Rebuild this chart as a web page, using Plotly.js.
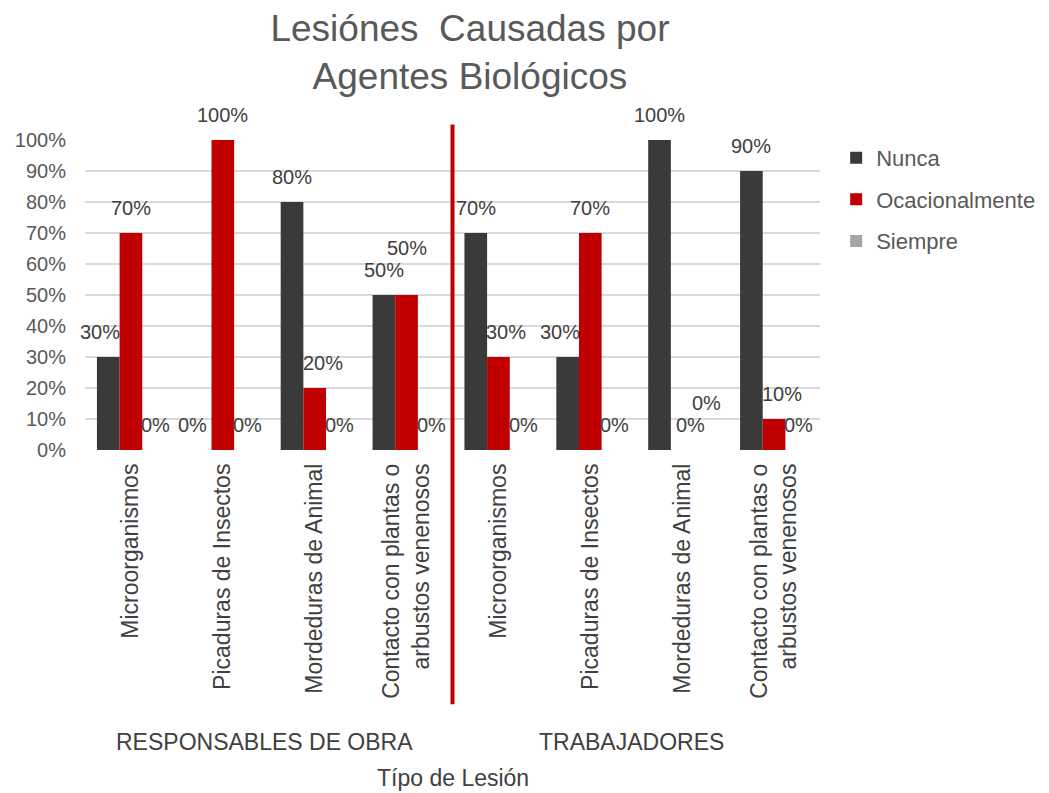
<!DOCTYPE html>
<html>
<head>
<meta charset="utf-8">
<script src="https://cdn.plot.ly/plotly-3.0.1.min.js"></script>
<style>
  body { margin: 0; background: #fff; }
  #chart { width: 1049px; height: 793px; }
</style>
</head>
<body>
<div id="chart"></div>
<script>
const categories = [
    'Microorganismos', 'Picaduras de Insectos', 'Mordeduras de Animal', 'Contacto con plantas o<br>arbustos venenosos',
    'Microorganismos', 'Picaduras de Insectos', 'Mordeduras de Animal', 'Contacto con plantas o<br>arbustos venenosos'
];
const groups = ['RESPONSABLES DE OBRA', 'TRABAJADORES'];
const seriesNames = ['Nunca', 'Ocacionalmente', 'Siempre'];
const nunca = [30, 0, 80, 50, 70, 30, 100, 90];
const ocacionalmente = [70, 100, 20, 50, 30, 70, 0, 10];
const siempre = [0, 0, 0, 0, 0, 0, 0, 0];
const colors = ['#3a3a3a', '#c00000', '#a6a6a6'];

const allValues = [nunca, ocacionalmente, siempre];
const xs = categories.map((_, i) => i);
const bargap = 0.26;
const barW = (1 - bargap) / allValues.length;
const fontFamily = 'Liberation Sans, Arial, sans-serif';

const traces = allValues.map((vals, s) => ({
    type: 'bar', name: seriesNames[s], x: xs, y: vals, legendgroup: seriesNames[s],
    marker: { color: colors[s] }, hoverinfo: 'skip'
}));

// data labels as annotations: stagger equal neighbours, nudge away from a taller neighbour bar
const labelAnnotations = [];
allValues.forEach((vals, s) => {
    vals.forEach((v, i) => {
        const prev = s > 0 ? allValues[s - 1][i] : null;
        const next = s < allValues.length - 1 ? allValues[s + 1][i] : null;
        const clash = prev === v;
        let dx = 0;
        if (next !== null && next > v) dx = -8;
        else if (prev !== null && prev > v) dx = 8;
        labelAnnotations.push({
            text: v + '%', xref: 'x', yref: 'y',
            x: i + (s - (allValues.length - 1) / 2) * barW, y: v,
            yanchor: 'bottom', yshift: 12 + (clash ? 22 : 0), xshift: s === 2 ? 2 : dx,
            showarrow: false, font: { family: fontFamily, size: 20, color: '#404040' }
        });
    });
});

const half = categories.length / 2;
const groupAnnotations = groups.map((g, i) => ({
    text: g, xref: 'x', yref: 'paper', x: i * half + (half - 1) / 2 - 0.05, y: -0.942,
    yanchor: 'middle', showarrow: false, font: { family: fontFamily, size: 23, color: '#404040' }
}));

const layout = {
    width: 1049, height: 793,
    margin: { l: 85, r: 229, t: 140, b: 343, autoexpand: false },
    paper_bgcolor: '#fff', plot_bgcolor: '#fff',
    font: { family: fontFamily, color: '#595959' },
    title: {
        text: 'Lesiónes  Causadas por<br>Agentes Biológicos',
        font: { size: 37, color: '#595959' },
        x: 0.448, xref: 'container', y: 0.948, yref: 'container', yanchor: 'top'
    },
    barmode: 'group', bargap: bargap, bargroupgap: 0,
    xaxis: {
        range: [-0.5, categories.length - 0.5],
        tickvals: xs, ticktext: categories, tickangle: -90,
        tickfont: { size: 23, color: '#404040' }, ticklabelstandoff: 8,
        showgrid: false, zeroline: false, showline: false, automargin: false
    },
    yaxis: {
        range: [0, 100], dtick: 10, ticksuffix: '%',
        tickfont: { size: 20, color: '#595959' },
        gridcolor: '#d9d9d9', gridwidth: 2, zeroline: false,
        ticklabelstandoff: 18, automargin: false
    },
    legend: {
        x: 1.022, y: 1.01, xanchor: 'left', yanchor: 'top',
        font: { size: 22, color: '#595959' }, itemwidth: 30, tracegroupgap: 10
    },
    shapes: [{
        type: 'line', xref: 'x', yref: 'paper',
        x0: half - 0.5, x1: half - 0.5, y0: -0.82, y1: 1.05,
        line: { color: '#c00000', width: 4 }
    }],
    annotations: labelAnnotations.concat(groupAnnotations, [{
        text: 'Típo de Lesión', xref: 'paper', yref: 'paper', x: 0.5, y: -1.058,
        yanchor: 'middle', showarrow: false, font: { family: fontFamily, size: 23, color: '#404040' }
    }])
};

Plotly.newPlot('chart', traces, layout, { displayModeBar: false });
</script>
</body>
</html>
